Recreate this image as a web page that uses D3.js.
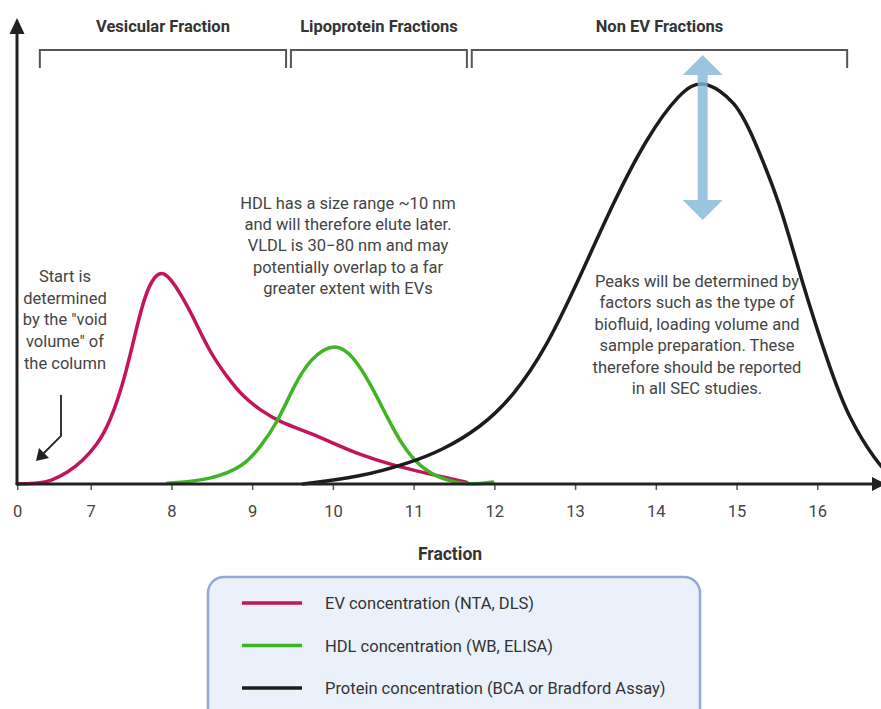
<!DOCTYPE html>
<html>
<head>
<meta charset="utf-8">
<script src="https://cdn.jsdelivr.net/npm/d3@7"></script>
<style>
  html, body { margin: 0; padding: 0; background: #fff; }
  svg { display: block; font-family: Roboto, "Noto Sans", sans-serif; }
</style>
</head>
<body>
<svg id="chart" width="881" height="709"></svg>
<script>
// fraction positions and relative concentration
var evSeries = [
	[6.09, 0], [6.37, 0.2], [6.5, 0.75], [6.71, 2.75], [6.9, 5.75], [7.08, 9.75],
	[7.24, 15.5], [7.4, 25], [7.51, 34], [7.64, 45], [7.75, 51], [7.9, 54],
	[8.11, 47.75], [8.27, 41.75], [8.48, 32.75], [8.69, 26.75], [8.89, 21.75],
	[9.1, 18.5], [9.34, 15.5], [9.72, 12.75], [10.0, 10.25], [10.34, 7.25],
	[10.74, 4.75], [10.99, 3.5], [11.36, 1.75], [11.66, 0.4]
];
var hdlSeries = [
	[7.95, 0.2], [8.48, 1], [8.89, 4.25], [9.1, 9.25], [9.31, 15.25], [9.51, 24.25],
	[9.72, 31.5], [10.03, 35.5], [10.25, 32], [10.46, 25.25], [10.67, 16.75],
	[10.87, 9.25], [11.08, 4.25], [11.36, 1], [11.7, -0.3], [11.98, 0.5]
];
var proteinSeries = [
	[9.63, 0], [10.34, 1.75], [10.95, 5.25], [11.36, 8.5], [11.82, 14], [12.23, 21.75],
	[12.65, 34.25], [13.06, 51.75], [13.47, 70.25], [13.89, 86.75], [14.3, 98],
	[14.58, 101.5], [15.0, 95.5], [15.2, 87], [15.54, 70.25], [15.79, 51.75],
	[16.16, 28.5], [16.4, 16], [16.74, 5.25], [16.9, 2.25]
];

var tickValues = [6.09, 7, 8, 9, 10, 11, 12, 13, 14, 15, 16];
var tickLabels = ["0", "7", "8", "9", "10", "11", "12", "13", "14", "15", "16"];

var sectionNames = ["Vesicular Fraction", "Lipoprotein Fractions", "Non EV Fractions"];
var sectionStart = [6.37, 9.48, 11.72];
var sectionEnd   = [9.42, 11.66, 16.37];

var legendLabels = [
	"EV concentration (NTA, DLS)",
	"HDL concentration (WB, ELISA)",
	"Protein concentration (BCA or Bradford Assay)"
];
var seriesColors = ["#c4145a", "#3fb526", "#1c1c1c"];

var startNote = ["Start is", "determined", "by the \"void", "volume\" of", "the column"];
var hdlNote = ["HDL has a size range ~10 nm", "and will therefore elute later.",
	"VLDL is 30\u221280 nm and may", "potentially overlap to a far", "greater extent with EVs"];
var peakNote = ["Peaks will be determined by", "factors such as the type of",
	"biofluid, loading volume and", "sample preparation. These",
	"therefore should be reported", "in all SEC studies."];

var svg = d3.select("#chart");
var x_scale = d3.scaleLinear().domain([7, 16]).range([90.7, 817.3]);
var y_scale = d3.scaleLinear().domain([0, 100]).range([484, 84]);
var x0 = 17, y0 = 484;

// section brackets + headers
var sec = svg.append("g");
sectionNames.forEach(function(name, i){
	var a = x_scale(sectionStart[i]), b = x_scale(sectionEnd[i]);
	sec.append("path")
		.attr("d", "M " + a + " 68 L " + a + " 50 L " + b + " 50 L " + b + " 68")
		.attr("fill", "none")
		.attr("stroke", "#555")
		.attr("stroke-width", 2);
	sec.append("text")
		.attr("x", (a + b) / 2).attr("y", 32)
		.attr("text-anchor", "middle")
		.attr("font-size", 16.5).attr("font-weight", "bold")
		.attr("fill", "#333")
		.text(name);
});

// x axis ticks and labels
var axis = d3.axisBottom(x_scale)
	.tickValues(tickValues)
	.tickFormat(function(d, i){ return tickLabels[i]; })
	.tickSize(6)
	.tickSizeOuter(0);
var gx = svg.append("g").attr("transform", "translate(0," + y0 + ")").call(axis);
gx.select(".domain").remove();
gx.selectAll(".tick line").attr("stroke", "#555").attr("stroke-width", 1.5);
gx.selectAll(".tick text")
	.attr("y", 21).attr("dy", "0.71em")
	.attr("font-size", 16.5).attr("font-family", "Roboto, sans-serif")
	.attr("fill", "#444");

svg.append("text")
	.attr("x", 450).attr("y", 560)
	.attr("text-anchor", "middle")
	.attr("font-size", 17.5).attr("font-weight", "bold")
	.attr("fill", "#333")
	.text("Fraction");

// curves
var line = d3.line()
	.x(function(d){ return x_scale(d[0]); })
	.y(function(d){ return y_scale(d[1]); })
	.curve(d3.curveBasis);

[evSeries, hdlSeries, proteinSeries].forEach(function(s, i){
	svg.append("path")
		.attr("d", line(s))
		.attr("fill", "none")
		.attr("stroke", seriesColors[i])
		.attr("stroke-width", 3.5)
		.attr("stroke-linecap", "round");
});

// axes lines with arrow heads
svg.append("line").attr("x1", x0).attr("y1", y0 + 1).attr("x2", x0).attr("y2", 30)
	.attr("stroke", "#222").attr("stroke-width", 3);
svg.append("path").attr("d", "M " + x0 + " 18 L " + (x0 - 7.5) + " 34 L " + (x0 + 7.5) + " 34 Z")
	.attr("fill", "#222");
svg.append("line").attr("x1", x0 - 1).attr("y1", y0).attr("x2", 875).attr("y2", y0)
	.attr("stroke", "#222").attr("stroke-width", 3);
svg.append("path").attr("d", "M 886 " + y0 + " L 872 " + (y0 - 7) + " L 872 " + (y0 + 7) + " Z")
	.attr("fill", "#222");

// blue double arrow at the protein peak
var ax = x_scale(14.58);
svg.append("path")
	.attr("d", "M " + ax + " 55 L " + (ax + 20) + " 75 L " + (ax + 5) + " 75 L " + (ax + 5) + " 200" +
		" L " + (ax + 20) + " 200 L " + ax + " 220 L " + (ax - 20) + " 200 L " + (ax - 5) + " 200" +
		" L " + (ax - 5) + " 75 L " + (ax - 20) + " 75 Z")
	.attr("fill", "#7fb8d6")
	.attr("fill-opacity", 0.8);

// annotation texts
function note(lines, cx, y, step){
	var t = svg.append("text")
		.attr("text-anchor", "middle")
		.attr("font-size", 16.5)
		.attr("fill", "#444");
	lines.forEach(function(l, i){
		t.append("tspan").attr("x", cx).attr("y", y + i * step).text(l);
	});
}
note(startNote, 65, 282, 21.7);
note(hdlNote, 348, 209, 21.2);
note(peakNote, 697, 287, 21.4);

// small arrow to the column start
svg.append("path")
	.attr("d", "M 61 395 L 61 436 L 42 455")
	.attr("fill", "none").attr("stroke", "#222").attr("stroke-width", 1.8);
svg.append("path")
	.attr("d", "M 36 461 L 39 448 L 49 458 Z")
	.attr("fill", "#222");

// legend
var lg = svg.append("g");
lg.append("rect")
	.attr("x", 208).attr("y", 577).attr("width", 492).attr("height", 150)
	.attr("rx", 16)
	.attr("fill", "#ebf1fa")
	.attr("stroke", "#8fa8d4").attr("stroke-width", 2.5);
legendLabels.forEach(function(l, i){
	var y = 603 + i * 42.5;
	lg.append("line").attr("x1", 242).attr("x2", 302).attr("y1", y).attr("y2", y)
		.attr("stroke", seriesColors[i]).attr("stroke-width", 3.5);
	lg.append("text").attr("x", 325).attr("y", y + 6)
		.attr("font-size", 16.5).attr("fill", "#333")
		.text(l);
});
</script>
</body>
</html>
